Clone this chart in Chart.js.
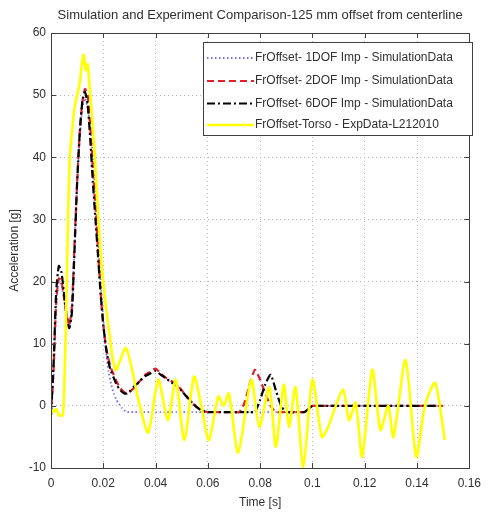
<!DOCTYPE html>
<html>
<head>
<meta charset="utf-8">
<script src="https://cdn.jsdelivr.net/npm/chart.js@4.4.1/dist/chart.umd.min.js"></script>
<style>
  html, body { margin: 0; padding: 0; background: #fff; }
  #wrap { width: 489px; height: 518px; }
</style>
</head>
<body>
<div id="wrap"><canvas id="c" width="489" height="518"></canvas></div>
<script>
// Simulation time base [s] shared by the three model variants
const simTime = [0, 0.001, 0.002, 0.003, 0.004, 0.005, 0.006, 0.007, 0.008, 0.009,
  0.010, 0.011, 0.012, 0.013, 0.014, 0.015, 0.016, 0.017, 0.018, 0.019,
  0.020, 0.021, 0.022, 0.023, 0.024, 0.025, 0.026, 0.027, 0.028, 0.029,
  0.030, 0.032, 0.034, 0.036, 0.038, 0.040, 0.042, 0.044, 0.046, 0.048,
  0.050, 0.052, 0.054, 0.056, 0.058, 0.060, 0.065, 0.070, 0.072, 0.074,
  0.076, 0.078, 0.080, 0.082, 0.084, 0.086, 0.088, 0.090, 0.095, 0.097,
  0.099, 0.100, 0.105, 0.110, 0.120, 0.130, 0.140, 0.150];

// Acceleration [g], 1DOF impedance model
const dof1Accel = [-1.5, 5, 16, 20, 19.5, 17, 14.5, 13, 16, 26,
  36, 43, 48, 49.5, 48, 45, 40, 34, 27, 20,
  14, 9, 5.5, 3.5, 2, 1, 0.3, -0.3, -0.7, -1,
  -1, -1, -1, -1, -1, -1, -1, -1, -1, -1,
  -1, -1, -1, -1, -1, -1, -1, -1, -1, -1,
  -1, -1, -1, -1, -1, -1, -1, -1, -1, -1,
  -0.3, 0, 0, 0, 0, 0, 0, 0];

// Acceleration [g], 2DOF impedance model
const dof2Accel = [-1.5, 6, 17, 20.5, 20, 17.5, 14.5, 13, 16, 26,
  36, 44, 49, 51, 50, 45, 38, 32, 25, 18,
  13, 9.5, 7.5, 6, 5, 4, 3.2, 2.6, 2.2, 2,
  2.2, 3, 4, 5, 5.5, 6, 5.2, 4.5, 4, 3.5,
  2.5, 1.5, 0.5, -0.3, -0.8, -1, -1, -1, -1, 0.5,
  3.5, 5.8, 4.2, 2, 0, -1, -1, -1, -1, -1,
  -0.3, 0, 0, 0, 0, 0, 0, 0];

// Acceleration [g], 6DOF impedance model
const dof6Accel = [-1.5, 7, 18.5, 22.5, 21.5, 18, 14.5, 12.5, 15, 25,
  36, 44, 49, 50.5, 48.5, 43, 36, 30, 24, 18,
  13, 9.5, 7, 5.5, 4.5, 3.5, 2.8, 2.3, 2, 2,
  2.3, 3.2, 4, 4.8, 5.2, 5.6, 5, 4.4, 3.8, 3.3,
  2.4, 1.4, 0.5, -0.3, -0.8, -1, -1, -1, -1, -1,
  -1, -1, 1, 3.5, 5, 2.5, 0, -1, -1, -1,
  -0.3, 0, 0, 0, 0, 0, 0, 0];

// Measured torso acceleration, test L212010
const expTime = [0, 0.001, 0.002, 0.003, 0.0045, 0.0052, 0.0058, 0.0065, 0.0072, 0.008,
  0.009, 0.010, 0.011, 0.0118, 0.0125, 0.0133, 0.014, 0.015, 0.0165, 0.018,
  0.0195, 0.021, 0.0222, 0.0247, 0.0287, 0.0334, 0.0372, 0.041, 0.0447, 0.0477,
  0.051, 0.0547, 0.0575, 0.0604, 0.064, 0.066, 0.068, 0.0716, 0.0766, 0.0797,
  0.0835, 0.086, 0.089, 0.091, 0.0935, 0.0965, 0.100, 0.1036, 0.106, 0.1116,
  0.114, 0.1165, 0.119, 0.1229, 0.126, 0.129, 0.131, 0.1356, 0.1397, 0.143,
  0.1469, 0.1506];
const expAccel = [-0.5, -1, -0.5, -1.5, -1.5, 5, 15, 30, 40, 44,
  48, 50, 52, 55, 56.5, 54, 55, 50, 42, 31,
  22, 16, 12, 5.8, 9.3, 1, -4.3, 4.2, -2.3, 4.2,
  -5.5, 4.7, 0, -5.5, 1.5, 0, 2, -7.5, 4.2, -3.4,
  3, -6.6, 3.4, -3.4, 3, -9.8, 4.2, -5, -3.4, 2.6,
  -2.3, 0.5, -8.2, 5.8, -3.9, 0, -5, 7.4, -8.2, 0,
  3.7, -5.5];

const xTicks = [0, 0.02, 0.04, 0.06, 0.08, 0.1, 0.12, 0.14, 0.16];
const yTicks = [-10, 0, 10, 20, 30, 40, 50, 60];

const seriesLabels = [
  'FrOffset- 1DOF Imp - SimulationData',
  'FrOffset- 2DOF Imp - SimulationData',
  'FrOffset- 6DOF Imp - SimulationData',
  'FrOffset-Torso - ExpData-L212010'
];
const chartTitle = 'Simulation and Experiment Comparison-125 mm offset from centerline';
const xTitle = 'Time [s]';
const yTitle = 'Acceleration [g]';

const FONT = '"Liberation Sans", Arial, sans-serif';
const TEXT = '#303030';

const pairs = (xs, ys) => xs.map((x, i) => ({ x, y: ys[i] }));

// Inward tick marks on all four sides, closed box, and the centred title
const axesBox = {
  id: 'axesBox',
  afterDatasetsDraw(chart) {
    const { ctx, chartArea: a, scales } = chart;
    ctx.save();
    ctx.strokeStyle = '#404040';
    ctx.lineWidth = 1;
    ctx.beginPath();
    xTicks.forEach(v => {
      const px = Math.round(scales.x.getPixelForValue(v)) + 0.5;
      ctx.moveTo(px, a.bottom); ctx.lineTo(px, a.bottom - 5);
      ctx.moveTo(px, a.top); ctx.lineTo(px, a.top + 5);
    });
    yTicks.forEach(v => {
      const py = Math.round(scales.y.getPixelForValue(v)) + 0.5;
      ctx.moveTo(a.left, py); ctx.lineTo(a.left + 5, py);
      ctx.moveTo(a.right, py); ctx.lineTo(a.right - 5, py);
    });
    ctx.stroke();
    ctx.strokeRect(Math.round(a.left) + 0.5, Math.round(a.top) + 0.5,
      Math.round(a.right - a.left), Math.round(a.bottom - a.top));
    ctx.restore();
  },
  afterDraw(chart) {
    const { ctx, chartArea: a } = chart;
    ctx.save();
    ctx.font = '13px ' + FONT;
    ctx.fillStyle = TEXT;
    ctx.textAlign = 'center';
    ctx.textBaseline = 'middle';
    ctx.fillText(chartTitle, (a.left + a.right) / 2, 15);
    ctx.restore();
  }
};

// Boxed legend in the upper right corner of the plot
const boxLegend = {
  id: 'boxLegend',
  afterDraw(chart) {
    const { ctx } = chart;
    const x0 = 203, y0 = 42, w = 269, h = 93;
    ctx.save();
    ctx.fillStyle = '#fff';
    ctx.fillRect(x0, y0, w, h);
    ctx.strokeStyle = '#404040';
    ctx.lineWidth = 1;
    ctx.strokeRect(x0 + 0.5, y0 + 0.5, w, h);
    const rowY = [58, 81, 103.5, 125];
    chart.data.datasets.forEach((ds, i) => {
      const y = rowY[i];
      ctx.beginPath();
      ctx.strokeStyle = ds.borderColor;
      ctx.lineWidth = ds.borderWidth;
      ctx.setLineDash(ds.borderDash || []);
      ctx.moveTo(207, y); ctx.lineTo(254, y);
      ctx.stroke();
      ctx.setLineDash([]);
      ctx.font = '12px ' + FONT;
      ctx.fillStyle = TEXT;
      ctx.textAlign = 'left';
      ctx.textBaseline = 'middle';
      ctx.fillText(ds.label, 255, y);
    });
    ctx.restore();
  }
};

new Chart(document.getElementById('c'), {
  type: 'line',
  data: {
    datasets: [
      { label: seriesLabels[0], data: pairs(simTime, dof1Accel), borderColor: '#6f6ff0',
        borderWidth: 1.8, borderDash: [1.5, 2.5], tension: 0.2, order: 4 },
      { label: seriesLabels[1], data: pairs(simTime, dof2Accel), borderColor: '#e0202a',
        borderWidth: 2.2, borderDash: [7, 4], tension: 0.2, order: 3 },
      { label: seriesLabels[2], data: pairs(simTime, dof6Accel), borderColor: '#000000',
        borderWidth: 2.2, borderDash: [8, 3, 2, 3], tension: 0.2, order: 2 },
      { label: seriesLabels[3], data: pairs(expTime, expAccel), borderColor: '#ffff00',
        borderWidth: 2.6, tension: 0.25, order: 1 }
    ]
  },
  options: {
    responsive: false,
    animation: false,
    devicePixelRatio: 1,
    parsing: true,
    elements: { point: { radius: 0 } },
    layout: { padding: { top: 33, right: 12, left: 0, bottom: 0 } },
    plugins: {
      legend: { display: false },
      title: { display: false },
      tooltip: { enabled: false }
    },
    scales: {
      x: {
        type: 'linear',
        min: 0, max: 0.16,
        afterBuildTicks: s => { s.ticks = xTicks.map(v => ({ value: v })); },
        afterFit: s => { s.height = 50; },
        ticks: {
          font: { family: FONT, size: 12 }, color: TEXT, padding: 8, maxRotation: 0,
          callback: v => String(Math.round(v * 100) / 100)
        },
        grid: { color: '#b8b8b8', drawTicks: false },
        border: { display: true, color: '#404040', dash: [1, 3] },
        title: { display: true, text: xTitle, color: TEXT,
          font: { family: FONT, size: 12 }, padding: { top: 0, bottom: 8 } }
      },
      y: {
        type: 'linear',
        min: -10, max: 60,
        afterBuildTicks: s => { s.ticks = yTicks.map(v => ({ value: v })); },
        afterFit: s => { s.width = 51; },
        ticks: { font: { family: FONT, size: 12 }, color: TEXT, padding: 5 },
        grid: { color: '#b8b8b8', drawTicks: false },
        border: { display: true, color: '#404040', dash: [1, 3] },
        title: { display: true, text: yTitle, color: TEXT,
          font: { family: FONT, size: 12 }, padding: { top: 7, bottom: 0 } }
      }
    }
  },
  plugins: [axesBox, boxLegend]
});
</script>
</body>
</html>
